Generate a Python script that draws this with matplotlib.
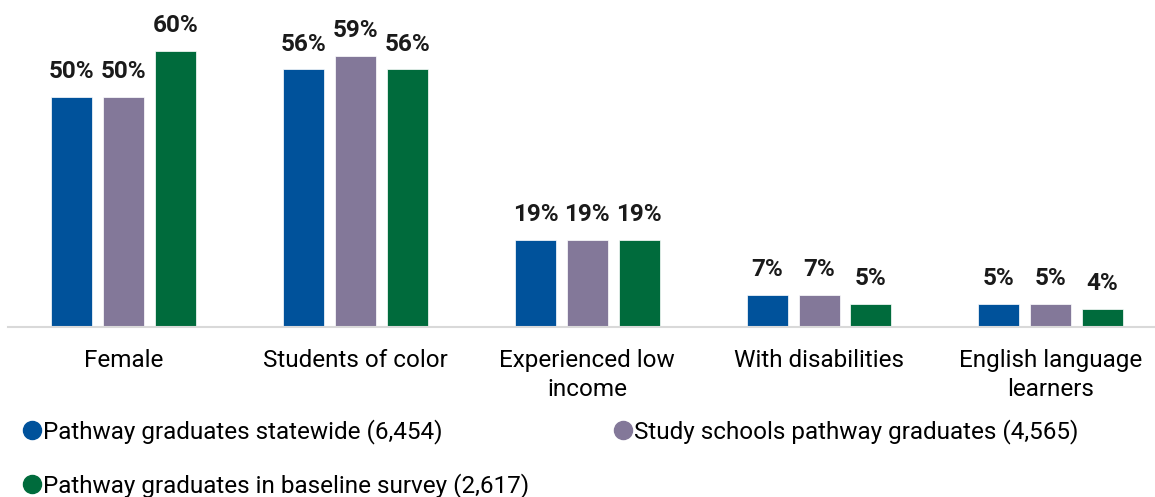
import matplotlib.pyplot as plt
import numpy as np

plt.rcParams['font.family'] = ['Roboto', 'DejaVu Sans']

categories = ['Female', 'Students of color', 'Experienced low\nincome',
              'With disabilities', 'English language\nlearners']
series_names = ['Pathway graduates statewide (6,454)',
                'Study schools pathway graduates (4,565)',
                'Pathway graduates in baseline survey (2,617)']
statewide = [50, 56, 19, 7, 5]
study_schools = [50, 59, 19, 7, 5]
baseline = [60, 56, 19, 5, 4]
colors = ['#00529B', '#837899', '#006B3C']

fig = plt.figure(figsize=(11.55, 4.97), dpi=100)
ax = fig.add_axes([8 / 1155, 170 / 497, 1 - 8 / 1155, 322 / 497])

x = np.arange(len(categories))
width = 0.177
step = 0.224
handles = []
for i, (vals, col) in enumerate(zip([statewide, study_schools, baseline], colors)):
    bars = ax.bar(x + (i - 1) * step, vals, width, color=col, edgecolor='white', linewidth=0.5)
    for b, v in zip(bars, vals):
        ax.text(b.get_x() + b.get_width() / 2, v + 3.0, f'{v}%', ha='center', va='bottom',
                fontsize=17.5, fontweight='bold', color='#1a1a1a')
    handles.append(plt.Line2D([], [], marker='o', linestyle='', markersize=13,
                              markerfacecolor=col, markeredgecolor=col))

ax.set_xlim(-0.5, 4.45)
ax.set_ylim(0, 70)
ax.set_xticks(x)
ax.set_xticklabels(categories, fontsize=17.5, linespacing=1.3)
ax.tick_params(axis='x', length=0, pad=16)
ax.set_yticks([])
for s in ['top', 'right', 'left']:
    ax.spines[s].set_visible(False)
ax.spines['bottom'].set_color('#D9D9D9')
ax.spines['bottom'].set_linewidth(1.5)

# legend is filled column by column, so reorder to read across rows
order = [0, 2, 1]
fig.legend([handles[k] for k in order], [series_names[k] for k in order],
           loc='upper left', bbox_to_anchor=(0.012, 0.176),
           ncol=2, frameon=False, fontsize=17.5, handlelength=0.7, handletextpad=0.1,
           columnspacing=3.5, labelspacing=1.2, borderaxespad=0)

fig.savefig('out.png', dpi=100)
